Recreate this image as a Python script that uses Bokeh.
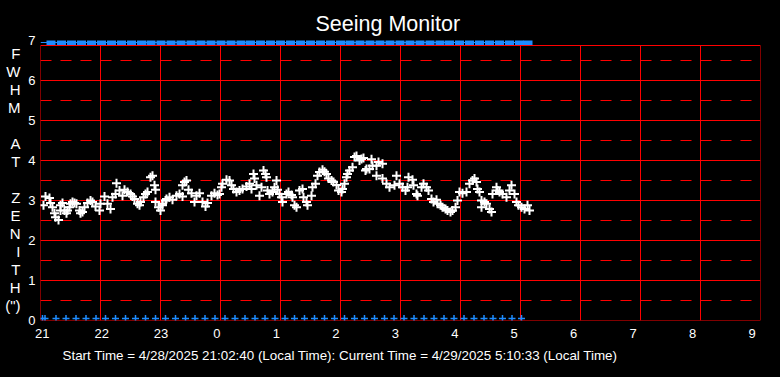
from bokeh.plotting import figure
from bokeh.models import Range1d, FixedTicker, Title, LinearAxis
from bokeh.embed import file_html
from bokeh.resources import INLINE

# ---------------- data ----------------
TITLE = "Seeing Monitor"
FOOTER = "Start Time = 4/28/2025 21:02:40 (Local Time): Current Time = 4/29/2025 5:10:33 (Local Time)"
Y_LABEL_LINES = ["F", "W", "H", "M", "", "A", "T", "", "Z", "E", "N", "I", "T", "H", "(\")"]

START_HOUR = 21
x_hours = list(range(21, 34))                       # 21 ... 33 (= 9 next morning)
x_tick_labels = [str(h % 24) for h in x_hours]      # 21 22 23 0 1 ... 9
y_ticks = [0, 1, 2, 3, 4, 5, 6, 7]
y_tick_labels = [str(v) for v in y_ticks]
y_solid_levels = [0, 1, 2, 3, 4, 5, 6]
y_half_levels = [0.5, 1.5, 2.5, 3.5, 4.5, 5.5, 6.5]
Y_PLOT_TOP = 6.875                                  # upper edge of the red box

# seeing samples: minutes after 21:00, FWHM (arcsec)
sample_minutes = [
    3, 5, 9, 10, 12, 14, 15, 18, 20, 20, 22, 24, 26, 27, 29, 30, 32, 34, 36, 39,
    40, 42, 44, 47, 50, 52, 55, 59, 60, 64, 67, 70, 72, 75, 76, 79, 82, 84, 87, 90,
    92, 94, 97, 99, 100, 103, 105, 107, 110, 112, 114, 115, 115, 118, 120, 122, 125,
    122, 126, 129, 132, 136, 139, 142, 142, 144, 146, 148, 151, 154, 156, 159, 162, 165,
    167, 171, 174, 177, 179, 181, 182, 186, 189, 191, 193, 196, 199, 202, 206, 209, 211,
    213, 214, 216, 219, 221, 223, 225, 226, 227, 229, 232, 234, 236, 237, 239, 241, 242, 246,
    248, 251, 252, 254, 256, 259, 262, 263, 266, 267, 271, 272, 275, 277, 279, 282, 284,
    286, 288, 291, 293, 296, 298, 301, 302, 304, 306, 307, 309, 312, 314, 316, 319, 321,
    323, 325, 326, 329, 331, 332, 336, 338, 342, 336, 342, 346, 349, 354, 356, 359, 362,
    365, 367, 368,
    372, 373, 376, 377, 381, 383, 386, 388, 391, 393, 396, 397, 400, 402, 405, 407, 410,
    412, 415, 417, 419, 422, 426, 429, 432, 434, 436, 437, 439, 441, 441, 444, 446, 449,
    451, 452, 456, 457, 459, 462, 466, 469, 471, 474, 476, 478, 481, 484, 487, 489,
]
fwhm = [
    2.88, 3.10, 3.06, 2.94, 2.83, 2.68, 2.58, 2.51, 2.88, 2.75, 2.94, 2.75, 2.68, 2.75, 2.83, 2.92, 2.96, 2.94, 2.92, 2.75,
    2.68, 2.71, 2.83, 2.94, 3.00, 2.96, 2.85, 2.75, 2.92, 3.10, 2.92, 2.79, 3.08, 3.16, 3.43, 3.25, 3.12, 3.27, 3.21, 3.16,
    3.10, 3.04, 2.92, 2.88, 2.96, 3.08, 3.16, 3.21, 3.58, 3.62, 3.38, 3.27, 2.96, 2.83, 2.75, 2.92, 3.00,
    2.88, 3.04, 3.08, 3.02, 3.12, 3.16, 3.10, 3.38, 3.46, 3.50, 3.27, 3.18, 2.96, 3.12, 3.18, 2.96, 2.85,
    2.94, 3.12, 3.18, 3.14, 3.16, 3.33, 3.42, 3.52, 3.50, 3.38, 3.29, 3.21, 3.25, 3.29, 3.35, 3.42, 3.29,
    3.66, 3.55, 3.38, 3.12, 3.33, 3.75, 3.66, 3.58, 3.25, 3.16, 3.21, 3.33, 3.50, 3.27, 3.16, 3.08, 2.96, 3.16,
    3.21, 3.14, 3.08, 2.88, 2.83, 3.25, 3.29, 3.08, 2.96, 2.88, 3.12, 3.33, 3.42, 3.62, 3.71, 3.77, 3.72,
    3.66, 3.55, 3.50, 3.46, 3.39, 3.25, 3.21, 3.29, 3.42, 3.58, 3.66, 3.75, 3.83, 4.09, 4.11, 4.00, 4.04,
    4.06, 3.75, 3.79, 3.79, 4.03, 3.87, 3.87, 3.96, 3.92, 3.62, 3.55, 3.42, 3.33, 3.38, 3.62, 3.42, 3.33,
    3.25, 3.33, 3.58,
    3.52, 3.38, 3.16, 3.12, 3.33, 3.42, 3.33, 3.25, 3.04, 2.96, 3.02, 2.92, 2.88, 2.83, 2.79, 2.75, 2.71,
    2.75, 2.83, 3.00, 3.21, 3.18, 3.21, 3.42, 3.50, 3.55, 3.46, 3.29, 3.21, 3.00, 2.83, 2.96, 2.92, 2.79,
    2.71, 3.16, 3.33, 3.25, 3.21, 3.16, 3.08, 3.25, 3.38, 3.16, 2.96, 2.88, 2.83, 2.79, 2.88, 2.75,
]

# image-capture markers along the bottom (minutes after 21:00)
capture_minutes = [
    2, 4.5, 15.5, 25.5, 35.5, 45.5, 55.5, 65, 75, 85, 95, 105, 115, 125, 135, 145,
    154.5, 164.5, 174.5, 184.5, 194.5, 204.5, 214.5, 224.5, 234.5, 244.5,
    254, 264, 274, 284, 294, 304, 314, 324, 334, 344,
    353.5, 363.5, 373.5, 383.5, 393.5, 403.5, 413.5, 423.5, 433.5, 443.5,
    452.5, 462, 471.5, 481,
]
# observing blocks along the top (minutes after 21:00)
block_minutes = [
    10.5, 21, 31, 41, 51, 61, 71, 81, 91, 101, 110.5, 120.5, 130.5, 140.5, 150.5,
    160.5, 170.5, 180.5, 190.5, 200.5, 210, 220, 230, 240, 250, 260, 270, 280, 290, 300,
    309.5, 319.5, 329.5, 339.5, 349.5, 359.5, 369.5, 379.5, 389.5, 399.5,
    409, 419, 429, 439, 449, 459, 469, 479, 487.5,
]
block_span_minutes = [0, 491]

# ---------------- styling / layout constants ----------------
RED = "#FF0000"
BLUE = "#1E8CFF"
FONT = "Liberation Sans"
PX_PER_HOUR = 60.0
PX_PER_UNIT = 40.0
FRAME_LEFT, FRAME_RIGHT, FRAME_TOP, FRAME_BOTTOM = 40, 20, 40, 57   # borders (px)
Y_ZERO_PX = 377 - FRAME_BOTTOM                                         # page row of y = 0


def to_hours(mins):
    return [START_HOUR + m / 60.0 for m in mins]


p = figure(
    width=780, height=377, output_backend="svg", toolbar_location=None,
    x_range=Range1d(x_hours[0], x_hours[-1]),
    y_range=Range1d(y_ticks[0], y_ticks[-1]),
    min_border_left=FRAME_LEFT, min_border_right=FRAME_RIGHT,
    min_border_top=FRAME_TOP, min_border_bottom=FRAME_BOTTOM,
    background_fill_color="black", border_fill_color="black", outline_line_color=None,
)
p.grid.visible = False

# grid: solid at integers, dashed at halves, all inside the red box 0..6.875 / 21..33
y_solid = y_solid_levels + [Y_PLOT_TOP]
n_x, n_y, n_h = len(x_hours), len(y_solid), len(y_half_levels)
p.segment(x0=x_hours, y0=[0] * n_x, x1=x_hours, y1=[Y_PLOT_TOP] * n_x,
          line_color=RED, line_width=1)
p.segment(x0=[x_hours[0]] * n_y, y0=y_solid, x1=[x_hours[-1]] * n_y, y1=y_solid,
          line_color=RED, line_width=1)
p.segment(x0=[x_hours[0]] * n_h, y0=y_half_levels, x1=[x_hours[-1]] * n_h, y1=y_half_levels,
          line_color=RED, line_width=1, line_dash="11 9")

# top band of observing blocks (just above the red box)
top_level = y_ticks[-1] - 2 / PX_PER_UNIT
p.line(x=to_hours(block_span_minutes), y=[top_level] * 2, line_color=BLUE, line_width=1)
p.rect(x=to_hours(block_minutes), y=[top_level] * len(block_minutes),
       width=9 / 60.0, height=5 / PX_PER_UNIT, fill_color=BLUE, line_color=None)

# bottom capture markers
bottom_level = y_ticks[0] + 2 / PX_PER_UNIT
p.scatter(x=to_hours(capture_minutes), y=[bottom_level] * len(capture_minutes),
          marker="cross", size=7, line_color=BLUE, line_width=1.5)

# seeing samples
p.scatter(x=to_hours(sample_minutes), y=fwhm, marker="cross", size=9,
          line_color="white", line_width=2)

# ---------------- axes ----------------
# the original places its hour labels on a slightly compressed spacing
x_label_pos = []
for k, lbl in enumerate(x_tick_labels):
    centre_px = 34.5 + 59.45 * k + 3.6 * len(lbl)
    x_label_pos.append(round(x_hours[0] + (centre_px - FRAME_LEFT) / PX_PER_HOUR, 5))

p.xaxis.ticker = FixedTicker(ticks=x_label_pos)
p.xaxis.major_label_overrides = {pos: lbl for pos, lbl in zip(x_label_pos, x_tick_labels)}
p.yaxis.ticker = FixedTicker(ticks=y_ticks)
p.yaxis.major_label_overrides = {v: lbl for v, lbl in zip(y_ticks, y_tick_labels)}

# stacked letters of the y title, drawn as the labels of an extra left axis
letter_pos, letter_txt = [], []
for r, ch in enumerate(Y_LABEL_LINES):
    if ch:
        pos = round((Y_ZERO_PX - (53.3 + 18 * r)) / PX_PER_UNIT, 5)
        letter_pos.append(pos)
        letter_txt.append(ch)
letter_axis = LinearAxis(ticker=FixedTicker(ticks=letter_pos),
                         major_label_overrides=dict(zip(letter_pos, letter_txt)))
p.add_layout(letter_axis, "left")

for ax in (p.xaxis[0], p.yaxis[0], letter_axis):
    ax.axis_line_color = None
    ax.major_tick_line_color = None
    ax.minor_tick_line_color = None
    ax.major_tick_out = 0
    ax.major_tick_in = 0
    ax.minor_tick_out = 0
    ax.minor_tick_in = 0
    ax.major_label_text_color = "white"
    ax.major_label_text_font = FONT
    ax.major_label_text_font_size = "13px"
letter_axis.major_label_text_font_size = "15px"
letter_axis.major_label_standoff = 10
p.xaxis.major_label_standoff = 8
p.yaxis.major_label_standoff = 5

# ---------------- texts ----------------
p.title.text = TITLE
p.title.text_color = "white"
p.title.text_font = FONT
p.title.text_font_size = "21.5px"
p.title.text_font_style = "normal"
p.title.align = "left"
p.title.offset = 275

p.add_layout(Title(text=FOOTER, align="left", offset=22, text_color="white",
                   text_font=FONT, text_font_size="13.4px", text_font_style="normal"), "below")

html = file_html(p, INLINE)
html = html.replace(
    "</head>",
    "<style>html, body {margin: 0; padding: 0; background: #000000; overflow: hidden;}</style></head>",
    1,
)
open("out.html", "w").write(html)
